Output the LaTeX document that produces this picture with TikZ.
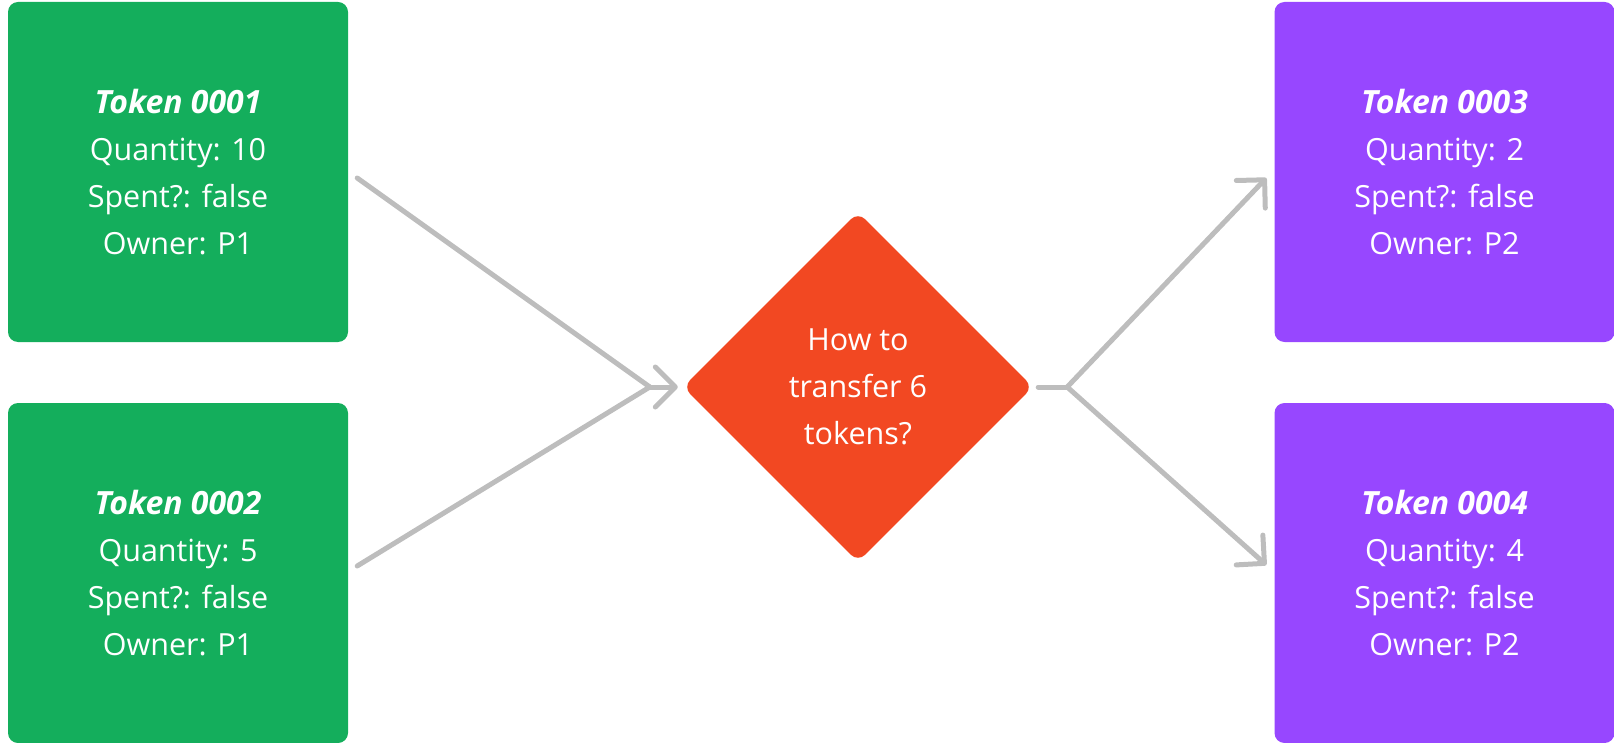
\documentclass[tikz,border=0pt]{standalone}
\usepackage{fontspec}
\setmainfont{Open Sans}
\usetikzlibrary{shapes.geometric,arrows.meta}
\definecolor{tokgreen}{HTML}{14AE5C}
\definecolor{tokpurple}{HTML}{9747FF}
\definecolor{askred}{HTML}{F24822}
\definecolor{lgray}{HTML}{BDBDBD}
\newcommand{\tokname}[1]{{\fontsize{32}{47}\selectfont\bfseries\itshape #1}}

\begin{document}
\begin{tikzpicture}[x=1pt,y=-1pt,
tok/.style={rectangle, rounded corners=10pt, fill=tokgreen, text=white, minimum width=340pt, minimum height=340pt, inner sep=0, align=center, font=\fontsize{30.5}{47}\selectfont},
ask/.style={diamond, rounded corners=10pt, fill=askred, text=white, minimum width=350pt, minimum height=350pt, inner sep=0, align=center, font=\fontsize{30.5}{47}\selectfont},
ln/.style={draw=lgray, line width=5pt, line cap=round},
arr/.style={ln, -{Straight Barb[length=20pt,width=40pt,round]}}]
	\useasboundingbox (0,0) rectangle (1614,743);
	\node[tok] at (178,172) (t1) {\tokname{Token 0001}\\Quantity: 10\\Spent?: false\\Owner: P1};
	\node[tok] at (178,573) (t2) {\tokname{Token 0002}\\Quantity: 5\\Spent?: false\\Owner: P1};
	\node[tok, fill=tokpurple] at (1444.5,172) (t3) {\tokname{Token 0003}\\Quantity: 2\\Spent?: false\\Owner: P2};
	\node[tok, fill=tokpurple] at (1444.5,573) (t4) {\tokname{Token 0004}\\Quantity: 4\\Spent?: false\\Owner: P2};
	\node[ask] at (858,387) (q) {How to\\transfer 6\\tokens?};
	\coordinate (jl) at ([xshift=-33pt]q.west);
	\coordinate (jr) at ([xshift=34pt]q.east);
	\draw[ln] ([xshift=9pt,yshift=-6pt]t1.east) -- (jl);
	\draw[ln] ([xshift=9pt,yshift=7pt]t2.east) -- (jl);
	\draw[arr, shorten >=5pt] (jl) -- (q.west);
	\draw[ln] ([xshift=5pt]q.east) -- (jr);
	\draw[arr] (jr) -- ([xshift=-8pt,yshift=-6pt]t3.west);
	\draw[arr] (jr) -- ([xshift=-8pt,yshift=8pt]t4.west);
\end{tikzpicture}
\end{document}
